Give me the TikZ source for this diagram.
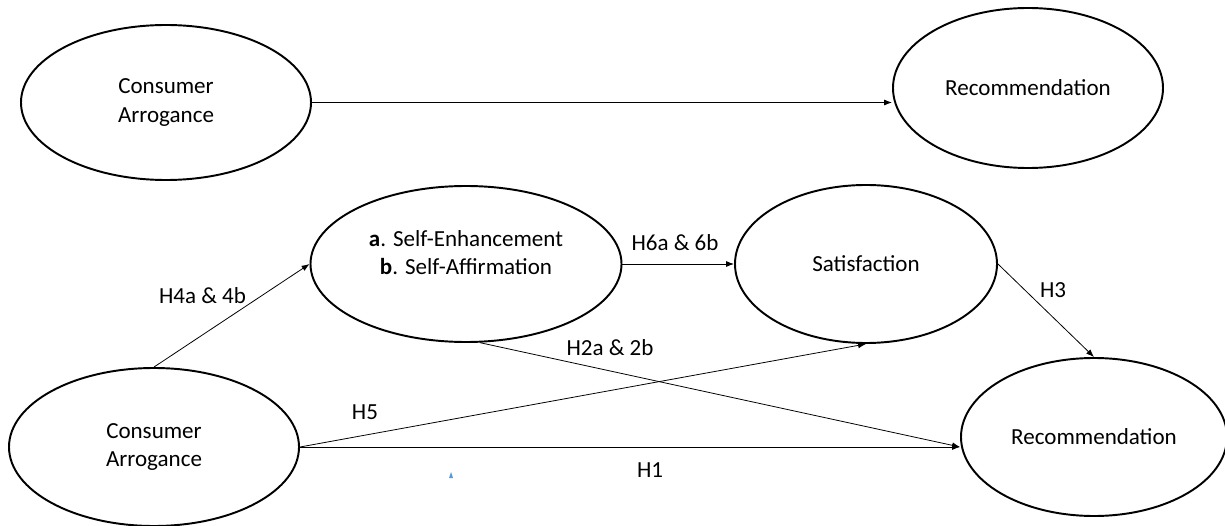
\documentclass[tikz,border=0pt]{standalone}
\usepackage{fontspec}
\setmainfont{Carlito}
\usetikzlibrary{arrows.meta, shapes.geometric, calc}

\definecolor{stray}{HTML}{5B9BD5}

\begin{document}
\begin{tikzpicture}[
        construct/.style={draw, ellipse, line width=1.1pt, inner sep=0pt, align=center, font=\fontsize{13.1}{16}\selectfont},
        path arrow/.style={-{Latex[length=4.5pt,width=3.4pt]}, line width=0.45pt},
        hyp/.style={inner sep=0pt, font=\fontsize{13.1}{16}\selectfont}
    ]
        \useasboundingbox (0,0) rectangle (24.5,10.5);

        % direct effect
        \node[construct, minimum width=5.8cm, minimum height=3.1cm] (ca1) at (3.32,8.45) {Consumer\\Arrogance};
        \node[construct, minimum width=5.4cm, minimum height=3.2cm] (rec1) at (20.56,8.74) {Recommendation};
        \draw[path arrow] (ca1.east) -- (ca1.east -| rec1.west);

        % mediated model
        \node[construct, minimum width=6.22cm, minimum height=3.12cm] (self) at (9.32,5.22) {};
        \node[hyp, align=center] (selftext) at (9.32,5.45) {\textbf{a}. Self-Enhancement\\\textbf{b}. Self-Affirmation};
        \node[construct, minimum width=5.24cm, minimum height=3.16cm] (sat) at (17.32,5.22) {Satisfaction};
        \node[construct, minimum width=5.8cm, minimum height=3.16cm] (ca2) at (3.08,1.56) {Consumer\\Arrogance};
        \node[construct, minimum width=5.32cm, minimum height=3.16cm] (rec2) at (21.88,1.76) {Recommendation};
        \coordinate (hit) at (ca2.east -| rec2.west);

        \draw[path arrow] (ca2.north) -- (self.west);
        \draw[path arrow] (self.east) -- (sat.west);
        \draw[path arrow] (self.-80) -- (hit);
        \draw[path arrow] (ca2.east) -- (sat.south);
        \draw[path arrow] (sat.east) -- (rec2.north);
        \draw[path arrow] (ca2.east) -- (hit);

        \node[hyp] (h4) at (4.05,4.58) {H4a \& 4b};
        \node[hyp] (h6) at (13.5,5.64) {H6a \& 6b};
        \node[hyp] (h2) at (12.2,3.54) {H2a \& 2b};
        \node[hyp] (h5) at (7.3,2.26) {H5};
        \node[hyp] (h1) at (13.0,1.1) {H1};
        \node[hyp] (h3) at (21.06,4.7) {H3};

        \fill[stray] (8.98,0.94) -- (9.06,0.94) -- (9.02,1.06) -- cycle;
    \end{tikzpicture}
\end{document}
